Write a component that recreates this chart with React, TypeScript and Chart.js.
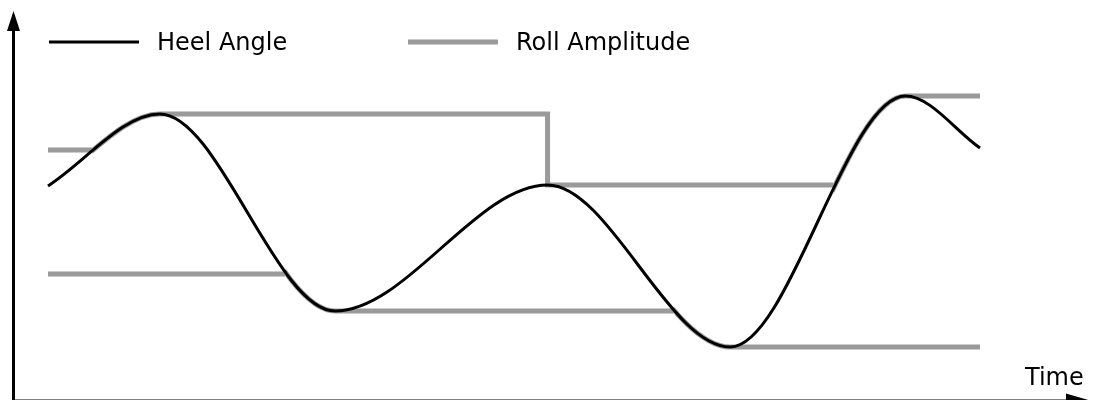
import React, { useEffect, useRef } from "react";
import { Chart, registerables } from "chart.js";

Chart.register(...registerables);

// Heel angle (time in s, angle in deg): extremes of the roll motion
const heelTime = [0, 1.2, 3.08, 5.36, 7.32, 9.2, 10.0];
const heelAngle = [4.4, 11.6, -8.1, 4.5, -11.7, 13.4, 8.2];

// Roll amplitude envelope, flat (held) parts; null = envelope follows the heel curve
const upperTime = [0, 0.48, 0.8, 1.2, 5.36, 5.36, 8.43, 8.8, 9.2, 10.0];
const upperAmp = [8.0, 8.0, null, 11.6, 11.6, 4.5, 4.5, null, 13.4, 13.4];
const lowerTime = [0, 2.55, 2.8, 3.08, 6.72, 7.0, 7.32, 10.0];
const lowerAmp = [-4.4, -4.4, null, -8.1, -8.1, null, -11.7, -11.7];

// Time spans where the roll amplitude envelope rides on the heel curve
const followStart = [0.48, 2.55, 6.72, 8.43];
const followEnd = [1.2, 3.08, 7.32, 9.2];

const seriesLabels = ["Heel Angle", "Roll Amplitude"];
const axisLabelX = "Time";

const xRange = [-0.515, 11.223];
const yRange = [-17, 23];

const toPoints = (xs: number[], ys: (number | null)[]) => xs.map((x, i) => ({ x, y: ys[i] }));

const FONT = '24px "DejaVu Sans", Verdana, sans-serif';
const GRAY = "#9a9a9a";

const envelopePlugin = {
  id: "envelopeFollow",
  beforeDatasetDraw(chart: any, args: any) {
    if (args.index !== 0) return;
    const meta = args.meta;
    const line = meta.dataset;
    if (line && typeof line.updateControlPoints === "function") {
      line.updateControlPoints(chart.chartArea, "x");
    }
    const pts = meta.data;
    const xs = chart.scales.x;
    const area = chart.chartArea;
    const ctx = chart.ctx as CanvasRenderingContext2D;
    followStart.forEach((t0, k) => {
      const x0 = xs.getPixelForValue(t0);
      const x1 = xs.getPixelForValue(followEnd[k]);
      ctx.save();
      ctx.beginPath();
      ctx.rect(x0, area.top, x1 - x0, area.bottom - area.top);
      ctx.clip();
      ctx.beginPath();
      ctx.moveTo(pts[0].x, pts[0].y);
      for (let i = 1; i < pts.length; i++) {
        const p = pts[i - 1];
        const c = pts[i];
        const c1x = p.cp2x ?? p.x, c1y = p.cp2y ?? p.y;
        const c2x = c.cp1x ?? c.x, c2y = c.cp1y ?? c.y;
        ctx.bezierCurveTo(c1x, c1y, c2x, c2y, c.x, c.y);
      }
      ctx.strokeStyle = GRAY;
      ctx.lineWidth = 5;
      ctx.lineJoin = "round";
      ctx.stroke();
      ctx.restore();
    });
  },
};

const decorPlugin = {
  id: "decor",
  afterDraw(chart: any) {
    const ctx = chart.ctx as CanvasRenderingContext2D;
    ctx.save();
    // y axis with arrow
    ctx.strokeStyle = "#000";
    ctx.fillStyle = "#000";
    ctx.lineWidth = 3;
    ctx.beginPath();
    ctx.moveTo(13.5, 28);
    ctx.lineTo(13.5, 400);
    ctx.stroke();
    ctx.beginPath();
    ctx.moveTo(13.5, 11);
    ctx.lineTo(7, 31);
    ctx.lineTo(20, 31);
    ctx.closePath();
    ctx.fill();
    // x axis with arrow
    ctx.lineWidth = 2;
    ctx.beginPath();
    ctx.moveTo(12, 400.5);
    ctx.lineTo(1070, 400.5);
    ctx.stroke();
    ctx.beginPath();
    ctx.moveTo(1090, 400.5);
    ctx.lineTo(1066, 393.5);
    ctx.lineTo(1066, 407.5);
    ctx.closePath();
    ctx.fill();
    // axis label
    ctx.font = FONT;
    ctx.textBaseline = "alphabetic";
    ctx.textAlign = "left";
    ctx.fillText(axisLabelX, 1025, 385);
    // legend
    const seen: string[] = [];
    const starts = [49, 408];
    chart.data.datasets.forEach((ds: any) => {
      if (seen.includes(ds.label)) return;
      const idx = seen.length;
      seen.push(ds.label);
      const x0 = starts[idx];
      ctx.strokeStyle = ds.borderColor;
      ctx.lineWidth = ds.legendWidth;
      ctx.lineCap = "butt";
      ctx.beginPath();
      ctx.moveTo(x0, 42);
      ctx.lineTo(x0 + 90, 42);
      ctx.stroke();
      ctx.fillStyle = "#000";
      ctx.fillText(ds.label, x0 + 108, 50);
    });
    ctx.restore();
  },
};

export default function App() {
  const ref = useRef<HTMLCanvasElement | null>(null);
  useEffect(() => {
    document.body.style.margin = "0";
    const canvas = ref.current;
    if (!canvas) return;
    const chart = new Chart(canvas, {
      type: "line",
      data: {
        datasets: [
          {
            label: seriesLabels[0],
            data: toPoints(heelTime, heelAngle),
            borderColor: "#000",
            borderWidth: 3,
            legendWidth: 3,
            pointRadius: 0,
            cubicInterpolationMode: "monotone",
            borderCapStyle: "butt",
            order: 0,
          } as any,
          {
            label: seriesLabels[1],
            data: toPoints(upperTime, upperAmp),
            borderColor: GRAY,
            borderWidth: 5,
            legendWidth: 5,
            pointRadius: 0,
            tension: 0,
            spanGaps: false,
            borderCapStyle: "butt",
            borderJoinStyle: "miter",
            order: 1,
          } as any,
          {
            label: seriesLabels[1],
            data: toPoints(lowerTime, lowerAmp),
            borderColor: GRAY,
            borderWidth: 5,
            legendWidth: 5,
            pointRadius: 0,
            tension: 0,
            spanGaps: false,
            borderCapStyle: "butt",
            borderJoinStyle: "miter",
            order: 1,
          } as any,
        ],
      },
      options: {
        responsive: false,
        animation: false,
        layout: { padding: 0 },
        plugins: { legend: { display: false }, tooltip: { enabled: false } },
        events: [],
        scales: {
          x: { type: "linear", display: false, min: xRange[0], max: xRange[1] },
          y: { type: "linear", display: false, min: yRange[0], max: yRange[1] },
        },
      },
      plugins: [envelopePlugin, decorPlugin],
    });
    return () => chart.destroy();
  }, []);
  return (
    <div style={{ width: 1094, height: 400, background: "#fff" }}>
      <canvas ref={ref} width={1094} height={400} />
    </div>
  );
}
